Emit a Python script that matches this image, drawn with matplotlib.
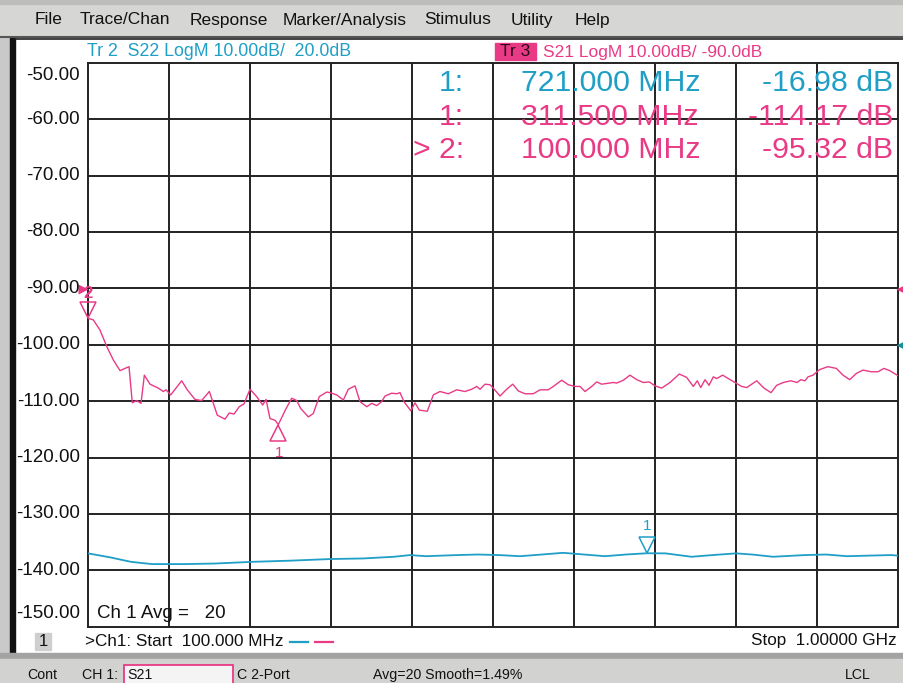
import matplotlib
matplotlib.use("Agg")
import matplotlib.pyplot as plt
from matplotlib.patches import Rectangle
from matplotlib.transforms import offset_copy
from matplotlib import font_manager

# --- trace data ---
# Tr 3: S21 LogM, 10 dB/div, ref -90 dB
s21_freq = [100, 105.9, 113.3, 120.8, 128.1, 135.6, 141.1, 145.6, 149.2, 154.1,
            158.9, 162.6, 168.9, 178.1, 183.7, 186.7, 191.9, 204.1, 210.3, 218.9,
            226.3, 234.8, 243.7, 252.2, 257.0, 262.2, 268.1, 273.3, 280.0, 287.4,
            294.1, 297.8, 302.2, 307.8, 311.5, 318.9, 326.3, 331.9, 336.3, 344.8,
            350.3, 357.0, 365.2, 368.9, 376.3, 383.7, 389.2, 396.7, 402.2, 409.7,
            415.2, 420.8, 426.3, 430.0, 437.4, 443.0, 446.7, 451.1, 458.6, 463.3,
            468.1, 477.0, 483.7, 491.1, 500.3, 509.7, 518.9, 526.3, 531.9, 535.6,
            541.1, 546.7, 550.3, 557.8, 565.2, 571.9, 578.1, 585.6, 594.8, 602.2,
            611.4, 617.0, 626.3, 633.7, 641.1, 646.7, 652.2, 659.7, 665.2, 670.8,
            683.7, 687.4, 694.8, 702.2, 709.7, 717.0, 723.7, 730.0, 737.4, 746.7,
            757.0, 765.2, 772.6, 777.0, 780.8, 785.6, 790.0, 794.8, 798.6, 805.2,
            811.4, 818.9, 826.3, 831.9, 843.0, 851.1, 858.9, 865.2, 872.6, 880.8,
            888.1, 891.9, 896.7, 900.0, 905.6, 913.0, 922.2, 931.5, 938.9, 946.3,
            953.7, 961.1, 970.3, 977.8, 984.4, 990.8, 1000]
s21_db = [-95.32, -95.6, -97.4, -100.3, -102.7, -104.6, -104.2, -103.9, -110.3, -109.9,
          -110.4, -105.4, -107.0, -107.7, -108.3, -108.0, -108.9, -106.4, -108.0, -109.7,
          -109.9, -108.3, -112.5, -113.2, -112.1, -112.3, -111.0, -110.5, -107.9, -109.2,
          -110.7, -109.7, -113.1, -113.4, -114.17, -111.7, -109.5, -109.9, -111.3, -112.8,
          -112.2, -109.2, -108.4, -108.5, -108.9, -109.8, -107.9, -107.3, -110.1, -111.0,
          -110.4, -110.8, -110.1, -109.1, -108.6, -108.7, -108.5, -110.1, -111.7, -110.3,
          -111.6, -111.8, -108.9, -108.3, -108.7, -108.0, -108.3, -107.9, -107.4, -107.9,
          -107.0, -107.1, -107.7, -109.1, -107.9, -107.0, -108.2, -108.7, -108.7, -108.0,
          -108.0, -107.4, -106.3, -107.1, -107.4, -107.4, -108.3, -107.4, -106.6, -107.0,
          -106.7, -106.8, -106.3, -105.4, -106.2, -106.7, -106.6, -107.3, -107.7, -106.7,
          -105.2, -105.8, -107.4, -106.4, -107.6, -106.2, -107.2, -105.7, -106.0, -105.4,
          -106.0, -106.7, -107.4, -107.6, -106.4, -107.7, -108.5, -107.2, -106.7, -106.4,
          -106.7, -106.2, -106.4, -105.7, -105.4, -104.4, -103.9, -104.2, -105.4, -106.2,
          -105.1, -104.5, -104.8, -104.8, -104.2, -104.6, -105.5]

# Tr 2: S22 LogM, 10 dB/div, ref 20 dB (shown on the -100 line)
s22_freq = [100, 124.4, 147.8, 171.1, 206.7, 241.1, 282.2, 323.3, 370.0, 405.6,
            440.0, 457.8, 475.6, 510.0, 533.3, 556.7, 580.0, 604.4, 627.8, 651.1,
            674.4, 697.8, 721.0, 741.7, 770.6, 793.9, 820.0, 837.8, 861.1, 896.7,
            920.0, 943.3, 966.7, 992.2, 1000]
s22_db = [-17.0, -17.7, -18.5, -18.9, -18.9, -18.8, -18.5, -18.3, -18.0, -17.9,
          -17.6, -17.3, -17.5, -17.3, -17.2, -17.3, -17.5, -17.2, -16.9, -17.2,
          -17.5, -17.2, -16.98, -17.0, -17.6, -17.3, -17.0, -17.2, -17.6, -17.3,
          -17.2, -17.5, -17.4, -17.3, -17.4]

y_ticks = [-50, -60, -70, -80, -90, -100, -110, -120, -130, -140, -150]
menu_items = ["File", "Trace/Chan", "Response", "Marker/Analysis", "Stimulus", "Utility", "Help"]
menu_x = [35, 80, 190, 283, 424, 511, 575]

S21_REF = -90.0
S22_REF, S22_REF_POS = 20.0, -100.0
s22_disp = [v - S22_REF + S22_REF_POS for v in s22_db]

PINK = "#e93a86"
CYAN = "#1f9fc6"

names = {f.name for f in font_manager.fontManager.ttflist}
NARROW = "Liberation Sans Narrow" if "Liberation Sans Narrow" in names else "Liberation Sans"
SANS = "Liberation Sans"

W, H = 904, 683
fig = plt.figure(figsize=(W / 100, H / 100), dpi=100)
fig.patch.set_facecolor("white")

# background layer in pixel coordinates (y down)
bg = fig.add_axes([0, 0, 1, 1], zorder=0)
bg.set_xlim(0, W)
bg.set_ylim(H, 0)
bg.axis("off")

bg.add_patch(Rectangle((0, 0), W, 37, color="#d6d6d4"))
bg.add_patch(Rectangle((0, 0), W, 4, color="#bdbdbb"))
bg.plot([0, W], [37, 37], color="#555555", lw=1.5)
bg.add_patch(Rectangle((0, 37), 10, 620, color="#c9c9c9"))
bg.add_patch(Rectangle((10, 37), 5, 620, color="#111111"))
bg.plot([15, W], [38.5, 38.5], color="#222222", lw=1.2)
bg.add_patch(Rectangle((0, 653), W, 6, color="#a3a3a3"))
bg.add_patch(Rectangle((0, 659), W, 24, color="#d2d2d0"))

for label, x in zip(menu_items, menu_x):
    bg.text(x, 20, label, fontsize=12.5, family=NARROW, va="center", ha="left", color="#111111")

# main graticule
left, right, top, bottom = 88, 898, 62.7, 626.7
ax = fig.add_axes([left / W, 1 - bottom / H, (right - left) / W, (bottom - top) / H], zorder=2)
ax.set_xlim(100, 1000)
ax.set_ylim(-150, -50)
ax.set_xticks([])
ax.set_yticks([])
for sp in ax.spines.values():
    sp.set_color("#222222")
    sp.set_linewidth(1.4)
for i in range(1, 10):
    ax.axvline(100 + 90 * i, color="#222222", lw=1.4, zorder=1)
for yv in y_ticks[1:-1]:
    ax.axhline(yv, color="#222222", lw=1.4, zorder=1)

ax.plot(s21_freq, s21_db, color=PINK, lw=1.0, zorder=3)
ax.plot(s22_freq, s22_disp, color=CYAN, lw=1.3, zorder=3)

# marker triangles (tip on the trace)
above = offset_copy(ax.transData, fig=fig, x=0, y=8, units="dots")
below = offset_copy(ax.transData, fig=fig, x=0, y=-8, units="dots")
ax.plot([100], [s21_db[0]], marker="v", ms=11, mfc="none", mec=PINK, mew=1.1,
        transform=above, clip_on=False, zorder=4)
ax.plot([311.5], [-114.17], marker="^", ms=11, mfc="none", mec=PINK, mew=1.1,
        transform=below, zorder=4)
ax.plot([721], [s22_disp[22]], marker="v", ms=11, mfc="none", mec=CYAN, mew=1.1,
        transform=above, zorder=4)

# overlay layer for text on top of the graticule
ov = fig.add_axes([0, 0, 1, 1], zorder=5)
ov.set_xlim(0, W)
ov.set_ylim(H, 0)
ov.axis("off")

ov.text(87, 52, "Tr 2  S22 LogM 10.00dB/  20.0dB", color=CYAN, fontsize=12.8,
        family=NARROW, va="center")
ov.add_patch(Rectangle((495, 43), 41, 17, color=PINK))
ov.text(515.5, 52, "Tr 3", color="#2a0a18", fontsize=12.5, family=NARROW, va="center", ha="center")
ov.text(543, 52, "S21 LogM 10.00dB/ -90.0dB", color=PINK, fontsize=12.5, family=NARROW, va="center")

# y labels
for yv in y_ticks:
    ypix = top + (-50 - yv) / 10 * 56.4
    if yv == -50:
        ypix = 76
    elif yv == -150:
        ypix = 614
    ov.text(80, ypix, f"{yv:.2f}", fontsize=13.5, family=SANS, ha="right", va="center", color="#111111")

# reference arrows
ov.plot([83], [288.5], marker=">", ms=7, color=PINK, mec="none")
ov.plot([901], [288.5], marker="<", ms=7, color=PINK, mec="none")
ov.plot([901], [345], marker="<", ms=7, color="#17909a", mec="none")

# marker labels
ov.text(88, 294, "2", color=PINK, fontsize=12, family=NARROW, ha="center", va="center", weight="bold")
ov.text(279, 453, "1", color=PINK, fontsize=11, family=NARROW, ha="center", va="center")
ov.text(647, 526, "1", color=CYAN, fontsize=11, family=NARROW, ha="center", va="center")

# marker readout
rows = [(83, CYAN, "1:", "721.000 MHz", "-16.98 dB"),
        (117, PINK, "1:", "311.500 MHz", "-114.17 dB"),
        (150, PINK, "> 2:", "100.000 MHz", "-95.32 dB")]
for y, c, num, freq, val in rows:
    ov.text(464, y, num, color=c, fontsize=21.8, family=SANS, ha="right", va="center")
    ov.text(521, y, freq, color=c, fontsize=21.8, family=SANS, ha="left", va="center")
    ov.text(893, y, val, color=c, fontsize=21.8, family=SANS, ha="right", va="center")

ov.text(97, 614, "Ch 1 Avg =   20", fontsize=13.5, family=SANS, va="center", color="#111111")

# bottom annotation line
ov.add_patch(Rectangle((35, 633), 16, 17, color="#cfcfcf"))
ov.text(43, 641, "1", fontsize=12, family=SANS, ha="center", va="center", color="#111111")
ov.text(85, 642, ">Ch1: Start  100.000 MHz", fontsize=12.3, family=NARROW, va="center", color="#111111")
ov.plot([290, 308], [642, 642], color=CYAN, lw=1.6)
ov.plot([315, 333], [642, 642], color=PINK, lw=1.6)
ov.text(897, 641, "Stop  1.00000 GHz", fontsize=12.3, family=NARROW, ha="right", va="center", color="#111111")

# status bar
ov.text(27, 675, "Cont", fontsize=10.2, family=NARROW, va="center", color="#111111")
ov.text(82, 675, "CH 1:", fontsize=10.2, family=NARROW, va="center", color="#111111")
ov.add_patch(Rectangle((124, 665), 109, 19, facecolor="#f4f4f4", edgecolor=PINK, lw=1.3))
ov.text(127, 675, "S21", fontsize=10.2, family=NARROW, va="center", color="#111111")
ov.text(237, 675, "C 2-Port", fontsize=10.2, family=NARROW, va="center", color="#111111")
ov.text(373, 675, "Avg=20 Smooth=1.49%", fontsize=10.2, family=NARROW, va="center", color="#111111")
ov.text(845, 675, "LCL", fontsize=10.2, family=NARROW, va="center", color="#111111")

fig.savefig("out.png", dpi=100)
